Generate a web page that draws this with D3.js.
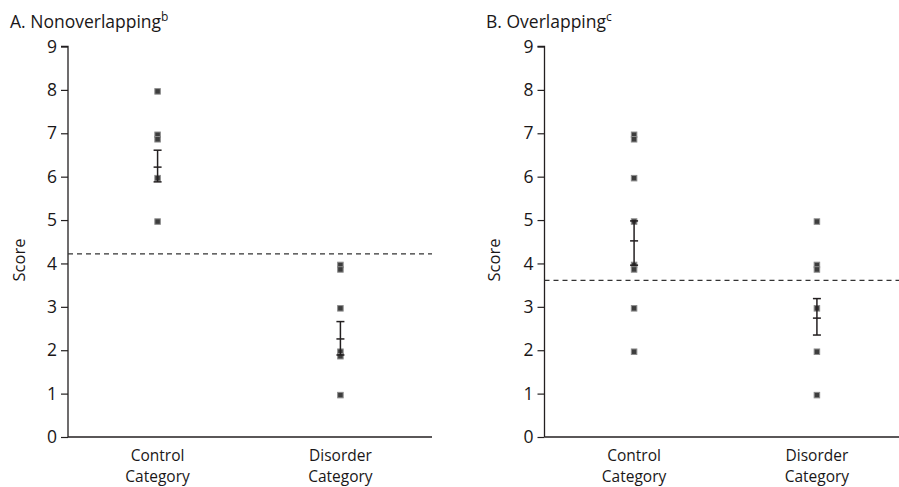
<!DOCTYPE html>
<html>
<head>
<meta charset="utf-8">
<script src="https://cdn.jsdelivr.net/npm/d3@7"></script>
<style>
  html, body { margin: 0; padding: 0; background: #fff; }
  svg { display: block; font-family: "Open Sans", "Noto Sans", sans-serif; }
</style>
</head>
<body>
<svg id="chart" width="899" height="487"></svg>
<script>
// ---- data ----
const categories = ["Control Category", "Disorder Category"];
const yTicks = [0, 1, 2, 3, 4, 5, 6, 7, 8, 9];
const panelTitles = ["A. Nonoverlapping", "B. Overlapping"];
const panelSups = ["b", "c"];
const yLabel = "Score";

// individual scores
const aControl = [8, 7, 7, 6, 5];
const aDisorder = [4, 4, 3, 2, 2, 1];
const bControl = [7, 7, 6, 5, 4, 4, 3, 2];
const bDisorder = [5, 4, 4, 3, 2, 1];

// mean and error bar (low, high)
const aMeans = [6.22, 2.26];
const aLow = [5.88, 1.89];
const aHigh = [6.61, 2.66];
const bMeans = [4.52, 2.74];
const bLow = [3.96, 2.35];
const bHigh = [4.98, 3.19];

// cutoff lines
const cutoffs = [4.22, 3.61];

// ---- drawing ----
const svg = d3.select("#chart");
const panels = [
  { x0: 68, points: [aControl, aDisorder], means: aMeans, low: aLow, high: aHigh, cutoff: cutoffs[0],
    titleX: 10, labelX: 18, xEnd: 432 },
  { x0: 544.5, points: [bControl, bDisorder], means: bMeans, low: bLow, high: bHigh, cutoff: cutoffs[1],
    titleX: 486, labelX: 493, xEnd: 910 }
];

const yTop = 46.5, yBottom = 437;

panels.forEach((p, i) => {
  const g = svg.append("g");
  const y = d3.scaleLinear().domain([0, 9]).range([yBottom, yTop]);
  const x = d3.scalePoint().domain(categories).range([p.x0, p.x0 + 362]).padding(0.49);

  // title
  const t = g.append("text")
    .attr("x", p.titleX).attr("y", 28)
    .attr("font-size", 17.5).attr("fill", "#1a1718");
  t.append("tspan").text(panelTitles[i]);
  t.append("tspan").attr("dy", -7).attr("font-size", 12).text(panelSups[i]);

  // y axis
  const yAxis = d3.axisLeft(y).tickValues(yTicks).tickSize(7).tickPadding(4).tickFormat(d3.format("d"));
  const ya = g.append("g").attr("transform", `translate(${p.x0},0)`).call(yAxis);
  ya.select(".domain").attr("stroke", "#231f20").attr("stroke-width", 1.3).attr("d", `M-7,${yTop}H0V${yBottom}`);
  ya.selectAll(".tick line").attr("stroke", "#231f20").attr("stroke-width", 1.2);
  ya.selectAll(".tick text").attr("font-size", 17.5).attr("fill", "#1a1718")
    .attr("font-family", "'Open Sans', 'Noto Sans', sans-serif");

  // x axis line
  g.append("line")
    .attr("x1", p.x0).attr("x2", p.xEnd)
    .attr("y1", yBottom).attr("y2", yBottom)
    .attr("stroke", "#231f20").attr("stroke-width", 1.3);

  // category labels (two lines each)
  categories.forEach(c => {
    const words = c.split(" ");
    words.forEach((w, k) => {
      g.append("text")
        .attr("x", x(c)).attr("y", 460.5 + k * 21.3)
        .attr("text-anchor", "middle").attr("font-size", 15.5).attr("fill", "#1a1718")
        .text(w);
    });
  });

  // y label
  g.append("text")
    .attr("transform", `translate(${p.labelX},${260}) rotate(-90)`)
    .attr("text-anchor", "middle").attr("dominant-baseline", "central")
    .attr("font-size", 16.5).attr("fill", "#1a1718")
    .text(yLabel);

  // cutoff dashed line
  g.append("line")
    .attr("x1", p.x0).attr("x2", p.xEnd)
    .attr("y1", y(p.cutoff)).attr("y2", y(p.cutoff))
    .attr("stroke", "#333").attr("stroke-width", 1.2)
    .attr("stroke-dasharray", "5,4");

  // points (duplicates stacked slightly below)
  categories.forEach((c, ci) => {
    const seen = {};
    p.points[ci].forEach(v => {
      const k = seen[v] || 0;
      seen[v] = k + 1;
      const cy = y(v) + 1.5 + k * 4.5;
      g.append("rect")
        .attr("x", x(c) - 2.75).attr("y", cy - 2.75)
        .attr("width", 5.5).attr("height", 5.5)
        .attr("fill", "#3d3d3d").attr("stroke", "#8c8c8c").attr("stroke-width", 1);
    });
  });

  // error bars
  categories.forEach((c, ci) => {
    const cx = x(c);
    const eb = g.append("g").attr("stroke", "#231f20").attr("stroke-width", 1.5);
    eb.append("line").attr("x1", cx).attr("x2", cx).attr("y1", y(p.high[ci])).attr("y2", y(p.low[ci]));
    [p.high[ci], p.means[ci], p.low[ci]].forEach(v => {
      eb.append("line").attr("x1", cx - 4).attr("x2", cx + 4).attr("y1", y(v)).attr("y2", y(v));
    });
  });
});
</script>
</body>
</html>
